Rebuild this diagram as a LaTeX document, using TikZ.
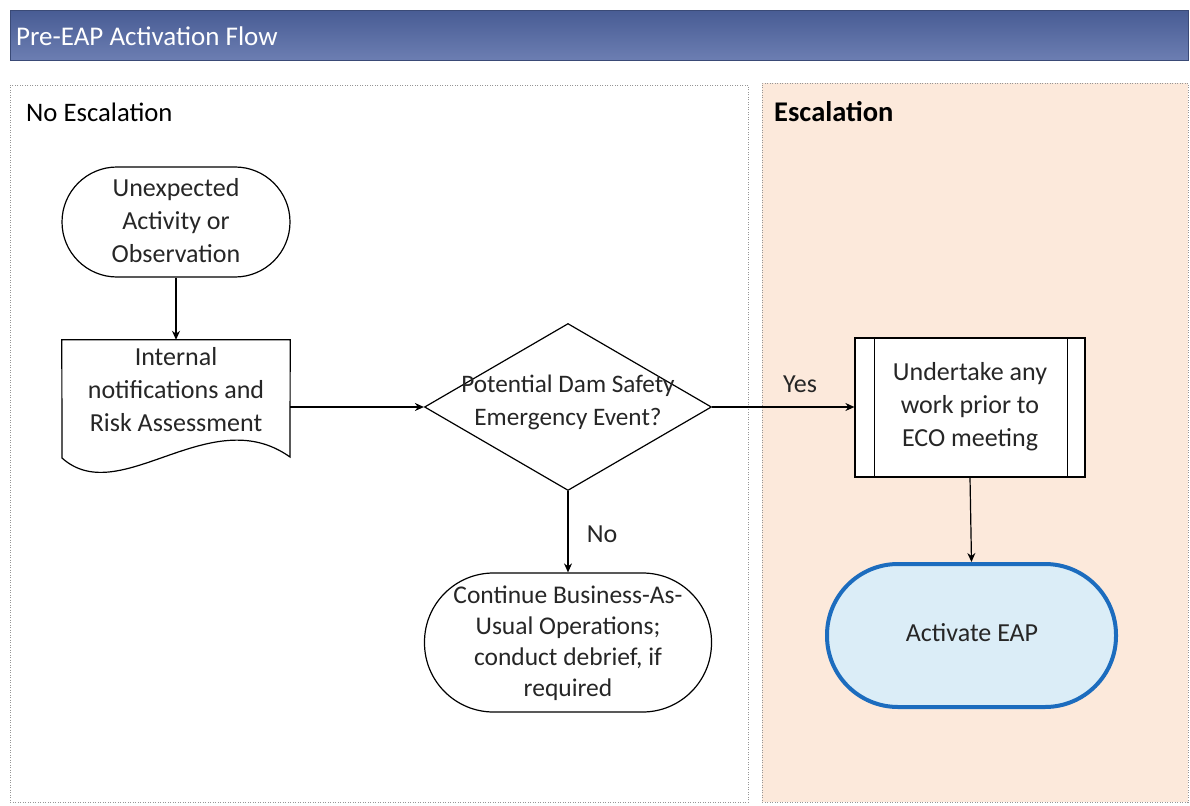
\documentclass[tikz,border=0pt]{standalone}
\usepackage{fontspec}
\setmainfont{Carlito}
\usetikzlibrary{arrows.meta,shapes.geometric,calc}
\definecolor{barTop}{RGB}{72,92,148}
\definecolor{barBot}{RGB}{108,126,178}
\definecolor{peach}{RGB}{252,233,219}
\definecolor{laneline}{RGB}{150,150,150}
\definecolor{eapblue}{RGB}{28,108,190}
\definecolor{eapfill}{RGB}{219,237,247}
\tikzset{
  arr/.style={-{Stealth[length=9pt,width=8pt]}, line width=1.2pt, black},
  lane/.style={draw=laneline, line width=0.8pt, dash pattern=on 1pt off 1.5pt, inner sep=0, anchor=north west},
  txt/.style={align=center, font=\fontsize{26}{33}\selectfont, text=black!85},
  stadium/.style={draw, line width=1.2pt, fill=white, inner sep=0},
  shapeline/.style={line width=1.2pt, black},
}
\begin{document}
\begin{tikzpicture}[x=1pt,y=-1pt]
\path[use as bounding box, fill=white] (0,0) rectangle (1190,805);
% title bar
\node[anchor=north west, minimum width=1178pt, minimum height=50pt, inner sep=0,
      top color=barTop, bottom color=barBot, draw=barTop!80!black, line width=0.5pt] (title) at (10,10) {};
\node[anchor=west, text=white, font=\fontsize{27}{30}\selectfont, inner sep=0] (titletext) at (16,36) {Pre-EAP Activation Flow};
% lanes
\node[lane, fill=white, minimum width=738pt, minimum height=717pt] (laneL) at (10,85) {};
\node[lane, fill=peach, minimum width=426pt, minimum height=719pt] (laneR) at (762,83) {};
\node[anchor=west, inner sep=0, font=\fontsize{26.7}{30}\selectfont] (lblL) at (26,112) {No Escalation};
\node[anchor=west, inner sep=0, font=\fontsize{28.5}{32}\selectfont\bfseries] (lblR) at (774,112) {Escalation};
% unexpected
\node[stadium, minimum width=228pt, minimum height=110pt, rounded corners=55pt] (unexp) at (176,222) {};
\node[txt] (unexptxt) at (176,221) {Unexpected\\Activity or\\Observation};
% document
\node[minimum width=228pt, minimum height=118pt, inner sep=0] (doc) at (176,399) {};
\draw[shapeline, fill=white] (doc.north west) -- (doc.north east) -- (290,457)
   .. controls (210,400) and (120,510) .. (62,458) -- cycle;
\node[txt] (doctxt) at (176,390) {Internal\\notifications and\\Risk Assessment};
% diamond
\node[diamond, draw, line width=1.2pt, fill=white, minimum width=287pt, minimum height=167pt, inner sep=0] (dia) at (568,407) {};
\node[txt, font=\fontsize{25.2}{33}\selectfont] (diatxt) at (568,402) {Potential Dam Safety\\Emergency Event?};
% process
\node[draw, line width=1.2pt, fill=white, minimum width=230pt, minimum height=139pt, inner sep=0] (proc) at (970,407.5) {};
\draw[shapeline] ($(proc.north west)+(20,0)$) -- ($(proc.south west)+(20,0)$);
\draw[shapeline] ($(proc.north east)+(-18,0)$) -- ($(proc.south east)+(-18,0)$);
\node[txt] (proctxt) at (970,407) {Undertake any\\work prior to\\ECO meeting};
% continue
\node[stadium, minimum width=287pt, minimum height=139pt, rounded corners=69pt] (cont) at (568,642.5) {};
\node[txt, font=\fontsize{25.5}{31}\selectfont] (conttxt) at (568,643) {Continue Business-As-\\Usual Operations;\\conduct debrief, if\\required};
% activate
\node[draw=eapblue, line width=4pt, fill=eapfill, minimum width=289pt, minimum height=143pt, rounded corners=71pt, inner sep=0] (eap) at (971.5,635.5) {};
\node[txt] (eaptxt) at (972,633) {Activate EAP};
% connectors
\draw[arr] (unexp.south) -- (doc.north);
\draw[arr] (dia.west -| doc.east) -- (dia.west);
\draw[arr] (dia.east) -- (dia.east -| proc.west);
\node[txt, anchor=center] (yes) at (800,384) {Yes};
\draw[arr] (dia.south) -- (cont.north);
\node[txt, anchor=center] (no) at (602,534) {No};
\draw[arr] (proc.south) -- (eap.north);
\end{tikzpicture}
\end{document}
